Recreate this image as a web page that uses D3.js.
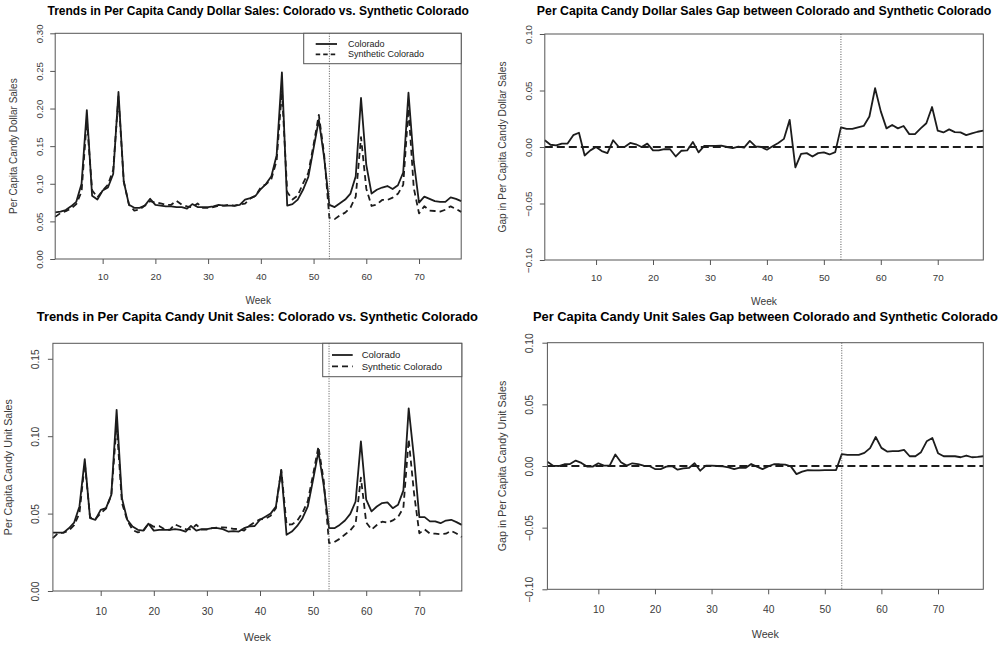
<!DOCTYPE html>
<html>
<head>
<meta charset="utf-8">
<script src="https://cdn.jsdelivr.net/npm/d3@7"></script>
<style>
  body { margin: 0; background: #fff; }
  svg { display: block; }
  text { font-family: "Liberation Sans", Arial, Helvetica, sans-serif; }
</style>
</head>
<body>
<svg id="chart" width="1003" height="647"></svg>
<script>
// ---- data: weekly per-capita candy sales, weeks 1..78 ----
const weeks = d3.range(1, 79);
const treatmentWeek = 53;

const dollarColorado = [
  0.062, 0.063, 0.065, 0.070, 0.076, 0.100, 0.198, 0.084, 0.079, 0.091,
  0.095, 0.113, 0.222, 0.103, 0.072, 0.068, 0.068, 0.071, 0.080, 0.072,
  0.071, 0.070, 0.070, 0.069, 0.069, 0.067, 0.073, 0.069, 0.069, 0.069,
  0.070, 0.072, 0.071, 0.071, 0.071, 0.072, 0.079, 0.081, 0.084, 0.093,
  0.100, 0.110, 0.138, 0.248, 0.071, 0.073, 0.079, 0.092, 0.109, 0.147,
  0.185, 0.135, 0.072, 0.069, 0.074, 0.079, 0.087, 0.110, 0.214, 0.125,
  0.087, 0.092, 0.095, 0.097, 0.093, 0.098, 0.115, 0.221, 0.130, 0.075,
  0.083, 0.080, 0.077, 0.076, 0.076, 0.082, 0.080, 0.077
];
const dollarSynthetic = [
  0.056, 0.061, 0.0635, 0.067, 0.073, 0.0895, 0.185, 0.0915, 0.082, 0.091,
  0.0986, 0.1184, 0.216, 0.103, 0.072, 0.0644, 0.0656, 0.071, 0.077, 0.075,
  0.074, 0.0718, 0.072, 0.0774, 0.0723, 0.070, 0.0685, 0.0738, 0.068, 0.068,
  0.069, 0.0708, 0.071, 0.072, 0.0707, 0.0726, 0.0736, 0.0804, 0.084, 0.0954,
  0.0994, 0.1064, 0.1308, 0.224, 0.089, 0.079, 0.0844, 0.1004, 0.1144, 0.1518,
  0.1916, 0.1395, 0.0546, 0.053, 0.058, 0.0616, 0.0684, 0.083, 0.162, 0.0935,
  0.0705, 0.0725, 0.0785, 0.0784, 0.0816, 0.0866, 0.0985, 0.200, 0.0946, 0.0606,
  0.0701, 0.0644, 0.0638, 0.0631, 0.0655, 0.070, 0.0665, 0.0626
];
const dollarGap = [
  0.006, 0.002, 0.0015, 0.003, 0.003, 0.0105, 0.0126, -0.0075, -0.003, 0.000,
  -0.0036, -0.0054, 0.006, 0.000, 0.000, 0.0036, 0.0024, 0.000, 0.003, -0.003,
  -0.003, -0.0018, -0.002, -0.0084, -0.0033, -0.003, 0.0045, -0.0048, 0.001, 0.001,
  0.001, 0.0012, 0.000, -0.001, 0.0003, -0.0006, 0.0054, 0.0006, 0.000, -0.0024,
  0.0006, 0.0036, 0.0072, 0.024, -0.018, -0.006, -0.0054, -0.0084, -0.0054, -0.0048,
  -0.0066, -0.0045, 0.0174, 0.016, 0.016, 0.0174, 0.0186, 0.027, 0.052, 0.0315,
  0.0165, 0.0195, 0.0165, 0.0186, 0.0114, 0.0114, 0.0165, 0.021, 0.0354, 0.0144,
  0.0129, 0.0156, 0.0132, 0.0129, 0.0105, 0.012, 0.0135, 0.0144
];

const unitColorado = [
  0.0377, 0.0377, 0.0377, 0.0405, 0.0442, 0.0546, 0.0852, 0.047, 0.046, 0.0524,
  0.0535, 0.0621, 0.117, 0.060, 0.046, 0.0416, 0.0395, 0.039, 0.0435, 0.039,
  0.0395, 0.0395, 0.0395, 0.040, 0.0395, 0.0384, 0.042, 0.039, 0.040, 0.040,
  0.0406, 0.0406, 0.040, 0.0384, 0.0387, 0.0384, 0.0406, 0.0417, 0.042, 0.046,
  0.048, 0.050, 0.0546, 0.078, 0.0363, 0.0384, 0.042, 0.047, 0.0546, 0.072,
  0.090, 0.068, 0.0406, 0.0406, 0.0427, 0.0455, 0.0498, 0.0578, 0.0967, 0.059,
  0.0514, 0.0546, 0.0568, 0.0572, 0.0535, 0.0557, 0.065, 0.118, 0.086, 0.0477,
  0.0477, 0.045, 0.045, 0.0438, 0.0455, 0.046, 0.0445, 0.0427
];
const unitSynthetic = [
  0.0342, 0.0374, 0.0377, 0.0391, 0.0426, 0.0502, 0.0827, 0.0475, 0.0465, 0.0502,
  0.0532, 0.0618, 0.1077, 0.057, 0.0457, 0.0394, 0.0379, 0.0387, 0.0435, 0.0415,
  0.042, 0.040, 0.0395, 0.043, 0.0415, 0.040, 0.0398, 0.0428, 0.0397, 0.0397,
  0.0406, 0.0409, 0.0411, 0.0409, 0.0401, 0.040, 0.039, 0.0422, 0.0445, 0.0463,
  0.0466, 0.0486, 0.0535, 0.0783, 0.0429, 0.043, 0.0453, 0.0505, 0.0581, 0.0753,
  0.0933, 0.0713, 0.031, 0.0316, 0.0337, 0.0365, 0.0392, 0.0433, 0.0732, 0.0443,
  0.0397, 0.0426, 0.0448, 0.0441, 0.0456, 0.0478, 0.0538, 0.098, 0.0633, 0.0373,
  0.0398, 0.0371, 0.0371, 0.0367, 0.037, 0.0389, 0.0371, 0.0348
];
const unitGap = [
  0.0035, 0.0003, 0.000, 0.0014, 0.0016, 0.0044, 0.0025, -0.0005, -0.0005, 0.0022,
  0.0003, 0.0003, 0.0093, 0.003, 0.0003, 0.0022, 0.0016, 0.0003, 0.000, -0.0025,
  -0.0025, -0.0005, 0.000, -0.003, -0.002, -0.0016, 0.0022, -0.0038, 0.0003, 0.0003,
  0.000, -0.0003, -0.0011, -0.0025, -0.0014, -0.0016, 0.0016, -0.0005, -0.0025, -0.0003,
  0.0014, 0.0014, 0.0011, -0.0003, -0.0066, -0.0046, -0.0033, -0.0035, -0.0035, -0.0033,
  -0.0033, -0.0033, 0.0096, 0.009, 0.009, 0.009, 0.0106, 0.0145, 0.0235, 0.0147,
  0.0117, 0.012, 0.012, 0.0131, 0.0079, 0.0079, 0.0112, 0.020, 0.0227, 0.0104,
  0.0079, 0.0079, 0.0079, 0.0071, 0.0085, 0.0071, 0.0074, 0.0079
];

// ---- axis ticks and labels ----
const weekTicks = [10, 20, 30, 40, 50, 60, 70];
const dollarTicks = [0, 0.05, 0.10, 0.15, 0.20, 0.25, 0.30];
const unitTicks = [0, 0.05, 0.10, 0.15];
const gapTicks = [-0.10, -0.05, 0, 0.05, 0.10];
const legendLabels = ["Colorado", "Synthetic Colorado"];
const xLabel = "Week";

// ---- panel layout ----
const panels = [
  {
    title: "Trends in Per Capita Candy Dollar Sales: Colorado vs. Synthetic Colorado",
    yLabel: "Per Capita Candy Dollar Sales",
    yDomain: [0, 0.30], yTicks: dollarTicks,
    lines: [{ values: dollarColorado, dash: null }, { values: dollarSynthetic, dash: "6,4" }],
    zeroLine: false,
    box: { left: 55.2, right: 461.2, top: 33.3, bottom: 259 },
    titleY: 15, xTickY: 280, xLabelY: 303.5, yTickX: 42.5, yLabelX: 16.5,
    fs: { title: 12, tick: 9.6, label: 10 },
    legend: { x0: 303.7, y0: 33.3, x1: 461.2, y1: 63.7, lx0: 315.7, lx1: 337, tx: 348, rows: [44, 54.3], fs: 9, dash: "4.5,3" }
  },
  {
    title: "Per Capita Candy Dollar Sales Gap between Colorado and Synthetic Colorado",
    yLabel: "Gap in Per Capita Candy Dollar Sales",
    yDomain: [-0.10, 0.10], yTicks: gapTicks,
    lines: [{ values: dollarGap, dash: null }],
    zeroLine: true,
    box: { left: 544.8, right: 983.3, top: 34, bottom: 260 },
    titleY: 15, xTickY: 281, xLabelY: 304.5, yTickX: 531.5, yLabelX: 506,
    fs: { title: 12.3, tick: 9.8, label: 10.2 },
    legend: null
  },
  {
    title: "Trends in Per Capita Candy Unit Sales: Colorado vs. Synthetic Colorado",
    yLabel: "Per Capita Candy Unit Sales",
    yDomain: [0, 0.16], yTicks: unitTicks,
    lines: [{ values: unitColorado, dash: null }, { values: unitSynthetic, dash: "6,4" }],
    zeroLine: false,
    box: { left: 52.9, right: 461.8, top: 343.3, bottom: 591 },
    titleY: 320.5, xTickY: 615, xLabelY: 641, yTickX: 39, yLabelX: 11.5,
    fs: { title: 12.9, tick: 10.3, label: 10.7 },
    legend: { x0: 322.7, y0: 343.3, x1: 461.8, y1: 376.7, lx0: 332, lx1: 352.7, tx: 361.7, rows: [355, 366.3], fs: 9.5, dash: "6,4" }
  },
  {
    title: "Per Capita Candy Unit Sales Gap between Colorado and Synthetic Colorado",
    yLabel: "Gap in Per Capita Candy Unit Sales",
    yDomain: [-0.10, 0.10], yTicks: gapTicks,
    lines: [{ values: unitGap, dash: null }],
    zeroLine: true,
    box: { left: 547.4, right: 983.3, top: 342.7, bottom: 589.3 },
    titleY: 321, xTickY: 613, xLabelY: 638, yTickX: 532.5, yLabelX: 506,
    fs: { title: 12.9, tick: 10.3, label: 10.7 },
    legend: null
  }
];

const INK = "#1c1c1c";
const FRAME = "#555";
const AXIS_TEXT = "#3a3a3a";
const svg = d3.select("#chart");

panels.forEach(p => {
  const b = p.box;
  const g = svg.append("g");
  const x = d3.scaleLinear().domain([1, 78]).range([b.left, b.right]);
  const y = d3.scaleLinear().domain(p.yDomain).range([b.bottom, b.top]);

  // title
  g.append("text")
    .attr("x", (b.left + b.right) / 2).attr("y", p.titleY)
    .attr("text-anchor", "middle")
    .attr("font-size", p.fs.title).attr("font-weight", "bold")
    .attr("fill", "#000")
    .text(p.title);

  // x axis (week)
  const xAxis = g.append("g")
    .attr("transform", `translate(0,${b.bottom})`)
    .call(d3.axisBottom(x).tickValues(weekTicks).tickSize(5).tickFormat(d3.format("d")));
  xAxis.select(".domain").remove();
  xAxis.selectAll(".tick line").attr("stroke", FRAME);
  xAxis.selectAll(".tick text")
    .attr("y", p.xTickY - b.bottom).attr("dy", null)
    .attr("font-size", p.fs.tick).attr("fill", AXIS_TEXT)
    .attr("font-family", null);

  // y axis with rotated tick labels
  const yAxis = g.append("g")
    .attr("transform", `translate(${b.left},0)`)
    .call(d3.axisLeft(y).tickValues(p.yTicks).tickSize(5).tickFormat(d3.format(".2f")));
  yAxis.select(".domain").remove();
  yAxis.selectAll(".tick line").attr("stroke", FRAME);
  yAxis.selectAll(".tick text")
    .attr("transform", "rotate(-90)")
    .attr("x", 0).attr("y", -(b.left - p.yTickX)).attr("dy", null)
    .attr("text-anchor", "middle")
    .attr("font-size", p.fs.tick).attr("fill", AXIS_TEXT)
    .attr("font-family", null);

  // axis titles
  g.append("text")
    .attr("x", (b.left + b.right) / 2).attr("y", p.xLabelY)
    .attr("text-anchor", "middle")
    .attr("font-size", p.fs.label).attr("fill", AXIS_TEXT)
    .text(xLabel);
  g.append("text")
    .attr("transform", `translate(${p.yLabelX},${(b.top + b.bottom) / 2}) rotate(-90)`)
    .attr("text-anchor", "middle")
    .attr("font-size", p.fs.label).attr("fill", AXIS_TEXT)
    .text(p.yLabel);

  // zero reference for gap panels
  if (p.zeroLine) {
    g.append("line")
      .attr("x1", b.left).attr("x2", b.right)
      .attr("y1", y(0)).attr("y2", y(0))
      .attr("stroke", INK).attr("stroke-width", 1.8)
      .attr("stroke-dasharray", "8,4");
  }

  // series
  const line = d3.line().x((d, i) => x(weeks[i])).y(d => y(d));
  p.lines.forEach(s => {
    g.append("path")
      .datum(s.values)
      .attr("d", line)
      .attr("fill", "none")
      .attr("stroke", INK)
      .attr("stroke-width", 1.8)
      .attr("stroke-linejoin", "round")
      .attr("stroke-dasharray", s.dash);
  });

  // policy start marker
  g.append("line")
    .attr("x1", x(treatmentWeek)).attr("x2", x(treatmentWeek))
    .attr("y1", b.top).attr("y2", b.bottom)
    .attr("stroke", "#555").attr("stroke-width", 1)
    .attr("stroke-dasharray", "1,1.5");

  // plot frame
  g.append("rect")
    .attr("x", b.left).attr("y", b.top)
    .attr("width", b.right - b.left).attr("height", b.bottom - b.top)
    .attr("fill", "none").attr("stroke", FRAME).attr("stroke-width", 1);

  // legend
  if (p.legend) {
    const L = p.legend;
    const lg = g.append("g");
    lg.append("rect")
      .attr("x", L.x0).attr("y", L.y0)
      .attr("width", L.x1 - L.x0).attr("height", L.y1 - L.y0)
      .attr("fill", "#fff").attr("stroke", FRAME).attr("stroke-width", 1);
    // keep the marker line visible through the legend
    lg.append("line")
      .attr("x1", x(treatmentWeek)).attr("x2", x(treatmentWeek))
      .attr("y1", L.y0).attr("y2", L.y1)
      .attr("stroke", "#555").attr("stroke-width", 1)
      .attr("stroke-dasharray", "1,1.5");
    legendLabels.forEach((lab, i) => {
      lg.append("line")
        .attr("x1", L.lx0).attr("x2", L.lx1)
        .attr("y1", L.rows[i]).attr("y2", L.rows[i])
        .attr("stroke", INK).attr("stroke-width", 1.8)
        .attr("stroke-dasharray", i === 0 ? null : L.dash);
      lg.append("text")
        .attr("x", L.tx).attr("y", L.rows[i]).attr("dy", "0.35em")
        .attr("font-size", L.fs).attr("fill", "#222")
        .text(lab);
    });
  }
});
</script>
</body>
</html>
